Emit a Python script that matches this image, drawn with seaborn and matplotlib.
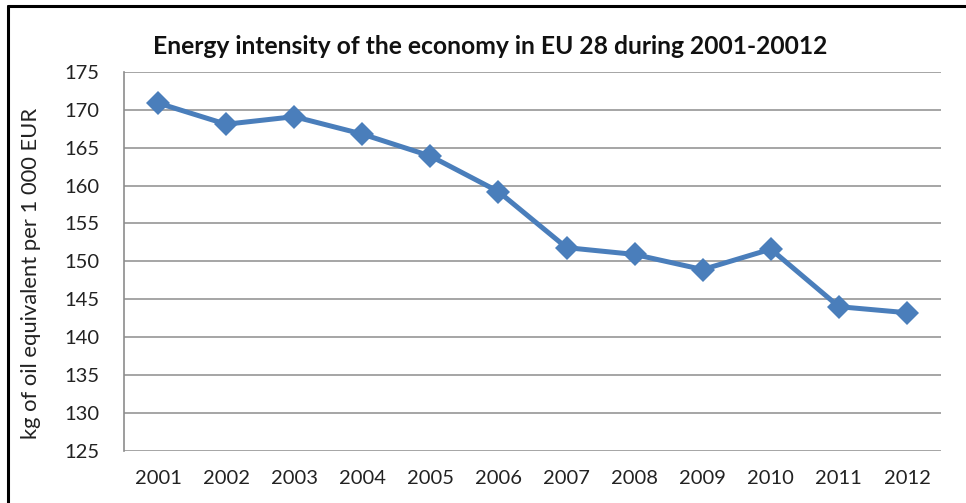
import matplotlib
matplotlib.use("Agg")
import matplotlib.pyplot as plt
from matplotlib.lines import Line2D
import seaborn as sns
import pandas as pd

years = ["2001", "2002", "2003", "2004", "2005", "2006",
         "2007", "2008", "2009", "2010", "2011", "2012"]
intensity = [170.9, 168.1, 169.1, 166.8, 163.9, 159.2,
             151.8, 150.9, 148.9, 151.6, 144.0, 143.2]
y_ticks = [125, 130, 135, 140, 145, 150, 155, 160, 165, 170, 175]

title = "Energy intensity of the economy in EU 28 during 2001-20012"
y_label = "kg of oil equivalent per 1 000 EUR"

sns.set_theme(style="white")
plt.rcParams["font.family"] = ["Lato", "DejaVu Sans"]

df = pd.DataFrame({"pos": range(len(years)), "year": years, "value": intensity})

fig = plt.figure(figsize=(9.66, 5.03), dpi=100)
ax = fig.add_axes([124 / 966, 1 - 450.5 / 503, (941 - 124) / 966, (450.5 - 72) / 503])

sns.lineplot(data=df, x="pos", y="value", ax=ax, color="#4A7EBB",
             linewidth=3.6, marker="D", markersize=12.5,
             markeredgecolor="#4A7EBB", markeredgewidth=0, zorder=3)

ax.set_xlim(-0.5, len(years) - 0.5)
ax.set_ylim(y_ticks[0], y_ticks[-1])
ax.set_yticks(y_ticks)
ax.set_xticks(range(len(years)))
ax.set_xticklabels(years)
ax.tick_params(axis="both", length=0, labelsize=14.5, colors="#222222")
ax.tick_params(axis="y", pad=18)
ax.tick_params(axis="x", pad=14)

for v in y_ticks:
    ax.axhline(v, color="#9E9E9E", linewidth=1.3, zorder=1)

for side in ["top", "right", "bottom"]:
    ax.spines[side].set_visible(False)
ax.spines["left"].set_color("#8C8C8C")
ax.spines["left"].set_linewidth(1.2)

ax.set_xlabel("")
ax.set_ylabel("")
fig.text(31 / 966, 1 - 273 / 503, y_label, rotation=90, ha="center", va="center",
         fontsize=15.8, color="#222222")
fig.text(490 / 966, 1 - 47 / 503, title, ha="center", va="center",
         fontsize=17.7, fontweight="bold", color="#111111")

# outer frame lines along the top and left edges
fig.add_artist(Line2D([7.5 / 966, 1.0], [1 - 5.5 / 503, 1 - 5.5 / 503],
                      transform=fig.transFigure, color="black", linewidth=2.2))
fig.add_artist(Line2D([7.5 / 966, 7.5 / 966], [0.0, 1 - 5.5 / 503],
                      transform=fig.transFigure, color="black", linewidth=2.2))

fig.savefig("out.png", dpi=100, facecolor="white")
